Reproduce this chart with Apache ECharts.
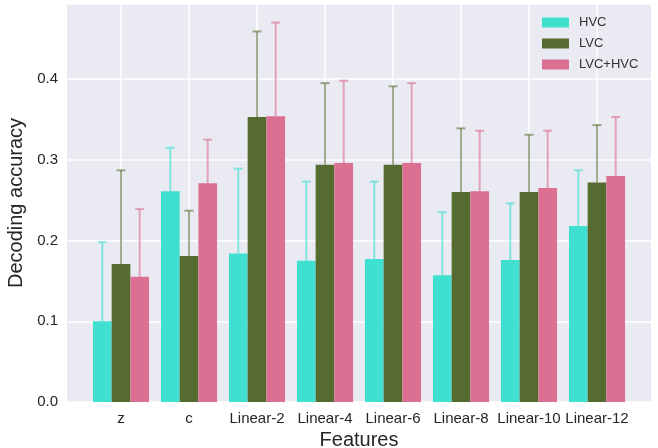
<!DOCTYPE html>
<html><head><meta charset="utf-8">
<script src="https://cdn.jsdelivr.net/npm/echarts@6/dist/echarts.min.js"></script>
<style>html,body{margin:0;padding:0;background:#fff}#c{width:658px;height:448px}</style>
</head><body><div id="c"></div>
<script>
const categories = ['z','c','Linear-2','Linear-4','Linear-6','Linear-8','Linear-10','Linear-12'];
const hvcMean  = [0.100,0.261,0.184,0.175,0.177,0.157,0.176,0.218];
const hvcUpper = [0.198,0.315,0.289,0.273,0.273,0.235,0.246,0.287];
const lvcMean  = [0.171,0.181,0.353,0.294,0.294,0.260,0.260,0.272];
const lvcUpper = [0.287,0.237,0.459,0.395,0.391,0.339,0.331,0.343];
const bothMean  = [0.155,0.271,0.354,0.296,0.296,0.261,0.265,0.280];
const bothUpper = [0.239,0.325,0.470,0.398,0.395,0.336,0.336,0.353];
const yTicks = [0,0.1,0.2,0.3,0.4];

const names = ['HVC','LVC','LVC+HVC'];
const colors = ['#40E0D0','#556B2F','#DB7093'];
const errColors = ['rgba(64,224,208,0.6)','rgba(85,107,47,0.55)','rgba(219,112,147,0.6)'];
const means = [hvcMean,lvcMean,bothMean];
const uppers = [hvcUpper,lvcUpper,bothUpper];
const YMAX = 0.493;
const BW = 0.275;
const font = 'Liberation Sans, Arial, sans-serif';

const series = [];
names.forEach((n,k)=>{
  series.push({name:n,type:'bar',xAxisIndex:1,yAxisIndex:1,barWidth:(BW*100)+'%',barGap:'0%',
    itemStyle:{color:colors[k]},data:means[k],z:2});
});
names.forEach((n,k)=>{
  series.push({name:n+' err',type:'custom',xAxisIndex:1,yAxisIndex:1,z:3,
    data:categories.map((c,i)=>[i,means[k][i],uppers[k][i]]),
    encode:{x:0,y:[1,2]},
    renderItem:function(params,api){
      const band = api.size([1,0])[0];
      const off = (k-1)*BW*band;
      const p0 = api.coord([api.value(0),api.value(1)]);
      const p1 = api.coord([api.value(0),api.value(2)]);
      const x = p0[0]+off;
      const st = {stroke:errColors[k],lineWidth:2};
      return {type:'group',children:[
        {type:'line',shape:{x1:x,y1:p0[1],x2:x,y2:p1[1]},style:st},
        {type:'line',shape:{x1:x-4.5,y1:p1[1],x2:x+4.5,y2:p1[1]},style:st}
      ]};
    }
  });
});

const chart = echarts.init(document.getElementById('c'),null,{renderer:'canvas'});
chart.setOption({
  animation:false,
  backgroundColor:'#ffffff',
  grid:[
    {left:67,right:7,top:4,bottom:46,show:true,backgroundColor:'#EAEAF2',borderWidth:0,z:-5,outerBoundsMode:'none',containLabel:false},
    {left:87,width:544,top:4,bottom:46,outerBoundsMode:'none',containLabel:false}
  ],
  legend:{orient:'vertical',left:537,top:11,itemWidth:27,itemHeight:10,itemGap:8,
    data:names,icon:'rect',
    textStyle:{fontFamily:font,fontSize:13,color:'#333',padding:[0,0,0,5]}},
  xAxis:[
    {gridIndex:0,type:'value',min:0,max:1,show:false},
    {gridIndex:1,type:'category',data:categories,
      name:'Features',nameLocation:'middle',nameGap:27,
      nameTextStyle:{fontFamily:font,fontSize:20,color:'#262626'},
      axisLine:{show:false},axisTick:{show:false},
      axisLabel:{fontFamily:font,fontSize:15,color:'#262626',margin:9,interval:0},
      splitLine:{show:true,alignWithLabel:true,lineStyle:{color:'#ffffff',width:1.5}}}
  ],
  yAxis:[
    {gridIndex:0,type:'value',min:0,max:YMAX,interval:0.1,
      name:'Decoding accuracy',nameLocation:'middle',nameGap:36,
      nameTextStyle:{fontFamily:font,fontSize:20,color:'#262626'},
      axisLine:{show:false},axisTick:{show:false},
      axisLabel:{fontFamily:font,fontSize:15,color:'#262626',margin:9,showMaxLabel:false,
        formatter:v=>yTicks.some(t=>Math.abs(t-v)<1e-9)?v.toFixed(1):''},
      splitLine:{show:true,lineStyle:{color:'#ffffff',width:1.5}}},
    {gridIndex:1,type:'value',min:0,max:YMAX,show:false,splitLine:{show:false}}
  ],
  series:series
});
</script></body></html>
